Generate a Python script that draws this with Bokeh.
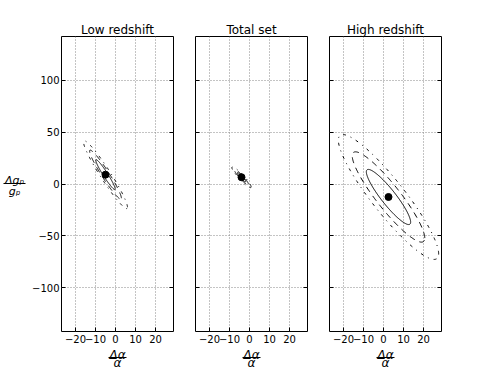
import numpy as np
from bokeh.plotting import figure
from bokeh.layouts import row, column
from bokeh.models import LinearAxis, FixedTicker, Range1d, Label
from bokeh.embed import file_html
from bokeh.resources import INLINE

# ---- data ----
panel_titles = ["Low redshift", "Total set", "High redshift"]
center_x = [-5.0, -4.0, 2.5]
center_y = [9.0, 6.5, -12.5]
sigma_x = [3.2, 1.4, 7.3]
sigma_y = [9.5, 2.9, 17.5]
rho = [-0.96, -0.93, -0.91]
delta_chi2 = [2.30, 6.17, 11.8]          # 1, 2, 3 sigma contours (2 dof)
contour_dash = ["solid", "6 5", "3 5 1 5"]
x_ticks = [-20, -10, 0, 10, 20]
y_ticks = [-100, -50, 0, 50, 100]
x_limits = (-27, 29)
y_limits = (-142, 142)
x_label_num, x_label_den = "Δα", "α"
y_label_num, y_label_den = "Δgₚ", "gₚ"

FONT = "DejaVu Sans"
FRAME_W, FRAME_H = 112, 295
TOP, BOTTOM = 36, 14
LABEL_H = 23
borders = [(33, 11), (11, 11), (11, 10)]   # (left, right) border of each panel
YLAB_W = 28
TOTAL_H = TOP + FRAME_H + BOTTOM + LABEL_H


def fmt(v):
    return str(v).replace("-", "\u2212")


def style_axis(ax, ticks, show_labels):
    ax.ticker = FixedTicker(ticks=ticks)
    if show_labels:
        ax.major_label_overrides = {t: fmt(t) for t in ticks}
    else:
        ax.major_label_overrides = {t: "" for t in ticks}
        ax.major_label_standoff = 0
    ax.axis_line_color = None
    ax.major_tick_in = 4
    ax.major_tick_out = 0
    ax.major_tick_line_color = "black"
    ax.minor_tick_in = 0
    ax.minor_tick_out = 0
    ax.major_label_text_font = FONT
    ax.major_label_text_font_size = "10px"
    ax.major_label_text_color = "black"


def blank_fig(w, h):
    f = figure(frame_width=w, frame_height=h, x_range=Range1d(0, w), y_range=Range1d(0, h),
               output_backend="svg", toolbar_location=None, min_border=0,
               x_axis_type=None, y_axis_type=None, outline_line_color=None,
               background_fill_color="white", border_fill_color="white",
               frame_align=False)
    return f


def label(x, y, text, size="12px"):
    return Label(x=x, y=y, text=text, text_align="center",
                 text_baseline="alphabetic", text_font=FONT, text_font_size=size,
                 text_font_style="italic", text_color="black")


cols = []
t = np.linspace(0, 2 * np.pi, 241)
for i, title in enumerate(panel_titles):
    first = i == 0
    bl, br = borders[i]
    p = figure(frame_width=FRAME_W, frame_height=FRAME_H,
               x_range=Range1d(*x_limits), y_range=Range1d(*y_limits),
               output_backend="svg", toolbar_location=None, title=title,
               min_border_left=bl, min_border_right=br,
               min_border_top=TOP, min_border_bottom=BOTTOM,
               background_fill_color="white", border_fill_color="white",
               outline_line_color="black", outline_line_width=1,
               frame_align=False)
    p.title.text_font = FONT
    p.title.text_font_size = "12px"
    p.title.text_font_style = "normal"
    p.title.text_color = "black"
    p.title.align = "center"
    p.title.standoff = 0

    style_axis(p.xaxis[0], x_ticks, True)
    p.xaxis.major_label_standoff = 3
    style_axis(p.yaxis[0], y_ticks, first)
    if first:
        p.yaxis.major_label_standoff = 2

    right = LinearAxis()
    style_axis(right, y_ticks, False)
    p.add_layout(right, "right")

    for g in (p.xgrid[0], p.ygrid[0]):
        g.grid_line_color = "#888888"
        g.grid_line_width = 1
        g.grid_line_dash = "1 2"
    p.xgrid.ticker = FixedTicker(ticks=x_ticks)
    p.ygrid.ticker = FixedTicker(ticks=y_ticks)

    # confidence ellipses from centre / covariance
    sx, sy, r = sigma_x[i], sigma_y[i], rho[i]
    for k, dash in zip(delta_chi2, contour_dash):
        s = np.sqrt(k)
        xs = center_x[i] + s * sx * np.cos(t)
        ys = center_y[i] + s * (r * sy * np.cos(t) + sy * np.sqrt(1 - r * r) * np.sin(t))
        p.line(xs, ys, line_color="black", line_width=1, line_dash=dash)
    p.scatter([center_x[i]], [center_y[i]], size=7, color="black")

    # x label (fraction) in a strip below the panel
    W = bl + FRAME_W + br
    cx = bl + FRAME_W / 2
    lab = blank_fig(W, LABEL_H)
    lab.add_layout(label(cx, 13.5, x_label_num))
    lab.segment(x0=[cx - 9], y0=[11], x1=[cx + 9], y1=[11], line_color="black", line_width=1)
    lab.add_layout(label(cx, 6, x_label_den))
    cols.append(column(p, lab, spacing=0))

# y label as a fraction in a strip left of the first panel
ylab = blank_fig(YLAB_W, TOTAL_H)
ycx = YLAB_W / 2
ylab.add_layout(label(ycx, TOTAL_H - 180, y_label_num, "11px"))
ylab.segment(x0=[ycx - 11], y0=[TOTAL_H - 183], x1=[ycx + 11], y1=[TOTAL_H - 183],
             line_color="black", line_width=1)
ylab.add_layout(label(ycx, TOTAL_H - 191, y_label_den, "11px"))

layout = row(ylab, *cols, spacing=0)
open("out.html", "w").write(file_html(layout, INLINE))
